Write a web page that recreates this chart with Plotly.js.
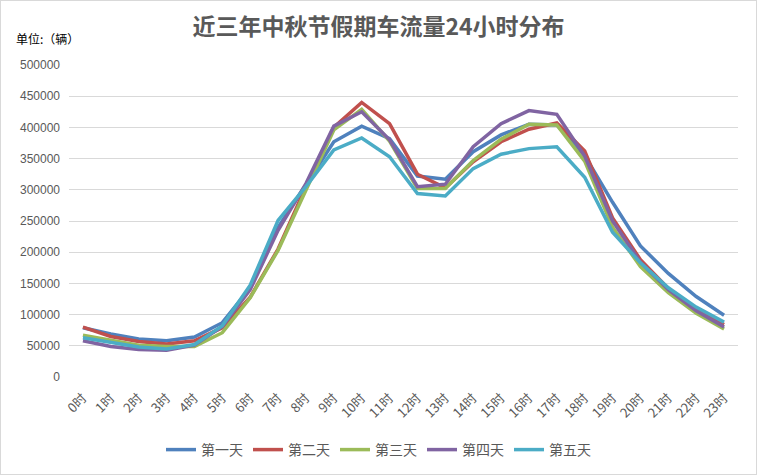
<!DOCTYPE html>
<html>
<head>
<meta charset="utf-8">
<script src="https://cdn.plot.ly/plotly-3.0.1.min.js"></script>
<style>
html,body{margin:0;padding:0;background:#fff;}
#chart{position:absolute;left:0;top:0;width:757px;height:475px;}
#frame{position:absolute;left:0;top:0;width:757px;height:475px;box-sizing:border-box;border:1px solid #d9d9d9;pointer-events:none;}
</style>
</head>
<body>
<div id="chart"></div>
<div id="frame"></div>
<script>
const hours = ["0时","1时","2时","3时","4时","5时","6时","7时","8时","9时","10时","11时","12时","13时","14时","15时","16时","17时","18时","19时","20时","21时","22时","23时"];
const day1 = [79000, 69000, 61000, 58000, 64000, 87000, 143000, 240000, 308000, 377000, 402000, 382000, 322000, 317000, 361000, 388000, 405000, 404000, 355000, 280000, 210000, 166000, 129000, 99000];
const day2 = [80000, 65000, 57000, 53000, 58000, 79000, 128000, 205000, 305000, 400000, 440000, 406000, 325000, 303000, 345000, 377000, 397000, 407000, 362000, 255000, 188000, 142000, 108000, 84000];
const day3 = [67000, 59000, 51000, 49000, 49000, 71000, 127000, 203000, 300000, 396000, 429000, 378000, 302000, 302000, 347000, 381000, 405000, 404000, 346000, 240000, 177000, 135000, 102000, 77000];
const day4 = [58000, 49000, 44000, 43000, 51000, 81000, 140000, 235000, 310000, 402000, 425000, 380000, 305000, 309000, 369000, 406000, 427000, 421000, 354000, 250000, 184000, 140000, 106000, 80000];
const day5 = [63000, 56000, 48000, 45000, 52000, 82000, 147000, 251000, 305000, 364000, 383000, 353000, 294000, 290000, 334000, 357000, 366000, 369000, 320000, 232000, 183000, 143000, 112000, 88000];
const seriesNames = ["第一天","第二天","第三天","第四天","第五天"];
const seriesValues = [day1, day2, day3, day4, day5];
const colors = ["#4F81BD","#C0504D","#9BBB59","#8064A2","#4BACC6"];
const yTicks = [0,50000,100000,150000,200000,250000,300000,350000,400000,450000,500000];

const traces = seriesNames.map((n,i)=>({
  type:'scatter', mode:'lines', name:n, x:hours, y:seriesValues[i],
  line:{color:colors[i], width:3.5}
}));

const layout = {
  width:757, height:475,
  paper_bgcolor:'#fff', plot_bgcolor:'#fff',
  margin:{l:69, r:19, t:65, b:98},
  font:{family:'"Noto Sans CJK SC", "Liberation Sans", sans-serif', color:'#595959', size:12},
  title:{text:'<b>近三年中秋节假期车流量24小时分布</b>', x:0.5, xref:'container', y:1-27/475, yref:'container', yanchor:'middle', xanchor:'center',
    font:{family:'"Noto Sans CJK SC", sans-serif', size:23, color:'#595959'}},
  xaxis:{type:'category', range:[-0.5,23.5], tickangle:-45, showgrid:false, zeroline:false, showline:false, ticks:'', ticklabelstandoff:10,
    tickfont:{family:'"Noto Sans CJK SC", sans-serif', size:13, color:'#595959'}},
  yaxis:{range:[0,500000], tickvals:yTicks, ticktext:yTicks.map(String), showgrid:true, gridcolor:'#d9d9d9', gridwidth:1,
    zeroline:false, showline:false, ticks:'', ticklabelstandoff:8,
    tickfont:{family:'"Liberation Sans", Arial, sans-serif', size:12, color:'#595959'}},
  legend:{orientation:'h', x:0.5, xanchor:'center', xref:'container', y:1-450/475, yref:'container', yanchor:'middle',
    font:{family:'"Noto Sans CJK SC", sans-serif', size:14, color:'#595959'}, itemwidth:30, tracegroupgap:0},
  annotations:[{text:'单位:（辆）', xref:'paper', yref:'paper', x:-55/669, y:1+(65-38)/312, xanchor:'left', yanchor:'middle', showarrow:false,
    font:{family:'"Noto Sans CJK SC", sans-serif', size:12, color:'#000'}}],
  showlegend:true
};
Plotly.newPlot('chart', traces, layout, {displayModeBar:false, staticPlot:true});
</script>
</body>
</html>
